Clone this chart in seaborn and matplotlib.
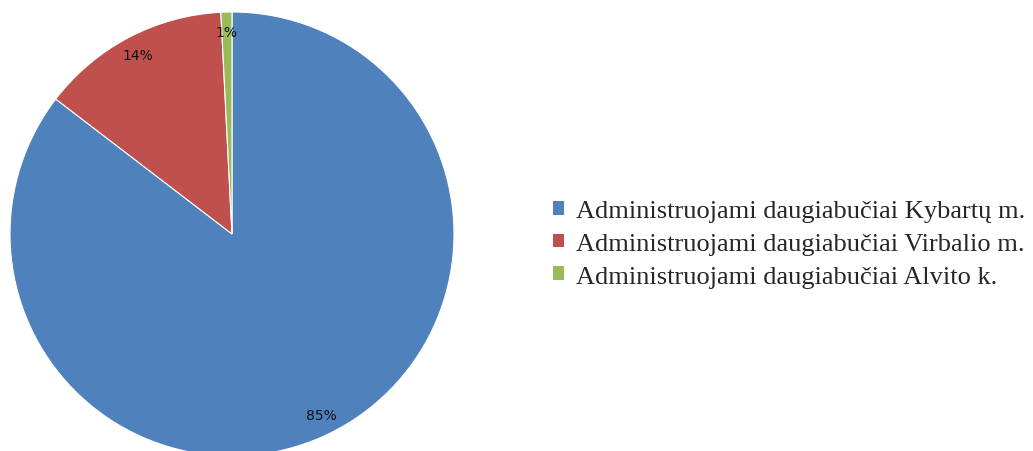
import matplotlib
matplotlib.use("Agg")
import matplotlib.pyplot as plt
import seaborn as sns
from matplotlib.patches import Patch

categories = ["Administruojami daugiabučiai Kybartų m.",
              "Administruojami daugiabučiai Virbalio m.",
              "Administruojami daugiabučiai Alvito k."]
values = [85.4, 13.8, 0.8]
colors = ["#4F81BD", "#C0504D", "#9BBB59"]

sns.set_theme(style="white")
plt.rcParams['font.family'] = ['DejaVu Sans']

W, H = 1033, 452
fig = plt.figure(figsize=(W/100, H/100), dpi=100)
cx, cy, r = 232, 235, 222
ax = fig.add_axes([(cx - r)/W, (H - cy - r)/H, 2*r/W, 2*r/H])
wedges, texts, autotexts = ax.pie(values, colors=colors, startangle=90, counterclock=False,
                                  autopct=lambda p: f"{p:.0f}%", pctdistance=0.91,
                                  wedgeprops=dict(edgecolor="white", linewidth=0.8),
                                  textprops=dict(fontsize=10, color="#111111"))
ax.set_xlim(-1, 1)
ax.set_ylim(-1, 1)
ax.set_aspect("equal")
ax.axis("off")

handles = [Patch(facecolor=c, edgecolor="none") for c in colors]
fig.legend(handles, categories, loc="center left", bbox_to_anchor=(553/W, (H - 245)/H),
           frameon=False, prop=dict(family="Liberation Serif", size=19),
           handlelength=0.42, handleheight=0.42, handletextpad=0.47, labelspacing=0.4,
           borderpad=0, borderaxespad=0)
fig.savefig("out.png", dpi=100)
